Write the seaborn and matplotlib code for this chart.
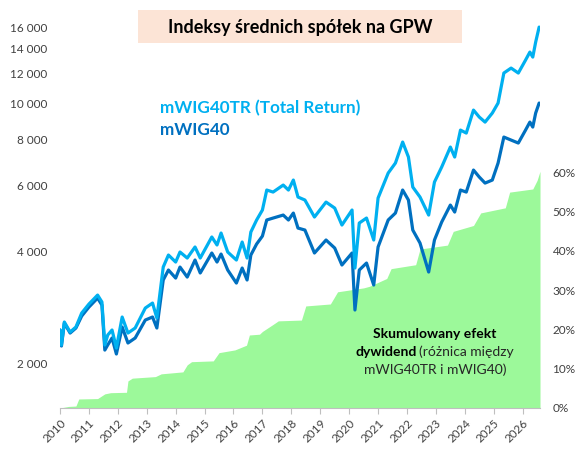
import matplotlib
matplotlib.use('Agg')
import matplotlib.pyplot as plt
from matplotlib.patches import Rectangle
from matplotlib.ticker import FixedLocator, FuncFormatter, NullLocator
import seaborn as sns
import numpy as np

# (lata dziesietnie)
lata = [2010.00, 2010.05, 2010.15, 2010.35, 2010.55, 2010.75, 2011.00, 2011.30, 2011.45, 2011.55,
        2011.65, 2011.80, 2011.95, 2012.15, 2012.35, 2012.60, 2012.95, 2013.20, 2013.35, 2013.57,
        2013.75, 2014.00, 2014.15, 2014.40, 2014.67, 2014.85, 2015.25, 2015.43, 2015.57, 2015.80,
        2016.10, 2016.30, 2016.47, 2016.60, 2016.80, 2017.00, 2017.15, 2017.37, 2017.72, 2017.90,
        2018.07, 2018.23, 2018.47, 2018.80, 2019.20, 2019.50, 2019.75, 2020.10, 2020.20, 2020.35,
        2020.60, 2020.85, 2021.00, 2021.35, 2021.60, 2021.85, 2022.05, 2022.20, 2022.45, 2022.75,
        2022.95, 2023.20, 2023.50, 2023.65, 2023.85, 2024.05, 2024.30, 2024.50, 2024.70, 2024.95,
        2025.15, 2025.35, 2025.60, 2025.85, 2026.10, 2026.25, 2026.35, 2026.45, 2026.57]
mwig40tr = [2454, 2236, 2578, 2423, 2499, 2725, 2881, 3046, 2918, 2236,
            2378, 2454, 2194, 2659, 2408, 2484, 2811, 2899, 2643, 3623,
            3903, 3737, 3976, 3831, 4102, 3831, 4364, 4153, 4472, 3976,
            3784, 4230, 3831, 4500, 4848, 5157, 5836, 5764, 6019, 5836,
            6208, 5589, 5486, 4938, 5417, 5220, 4699, 5157, 3601, 4758,
            4907, 4283, 5554, 6484, 6897, 7855, 7159, 5945, 5589, 4999,
            6132, 6729, 7615, 7159, 8459, 8304, 9574, 9169, 8888, 9398,
            9999, 12042, 12417, 12042, 13046, 13710, 13293, 14585, 16004]
mwig40 = [2454, 2222, 2562, 2408, 2484, 2675, 2828, 2990, 2863, 2167,
          2236, 2335, 2115, 2499, 2264, 2335, 2610, 2659, 2484, 3344,
          3557, 3384, 3623, 3405, 3784, 3492, 3952, 3737, 3927, 3557,
          3281, 3601, 3344, 3903, 4178, 4389, 4848, 4907, 4999, 4848,
          5061, 4612, 4556, 3952, 4283, 4076, 3669, 3952, 2777, 3557,
          3714, 3241, 4102, 4848, 5061, 5836, 5486, 4556, 4204, 3513,
          4283, 4787, 5318, 5093, 5836, 5764, 6605, 6325, 6093, 6208,
          6897, 8101, 7952, 7807, 8459, 8888, 8619, 9398, 10000]

efekt_lata = [2010.0, 2010.3, 2010.55, 2010.65, 2011.3, 2011.55, 2011.75, 2012.3, 2012.35, 2012.5,
              2013.3, 2013.5, 2014.25, 2014.4, 2014.55, 2015.3, 2015.5, 2016.05, 2016.45, 2016.55,
              2016.9, 2017.0, 2017.35, 2017.55, 2018.35, 2018.5, 2019.35, 2019.6, 2020.5, 2020.7,
              2021.3, 2021.45, 2022.3, 2022.45, 2023.4, 2023.6, 2024.3, 2024.55, 2025.4, 2025.55,
              2026.35, 2026.5, 2026.6]
efekt_proc = [0.0, 0.4, 0.5, 2.3, 2.4, 3.6, 3.9, 4.0, 6.9, 7.6,
              8.0, 8.7, 9.2, 11.0, 11.8, 12.0, 14.1, 14.8, 16.0, 18.6,
              18.8, 19.5, 21.2, 22.2, 22.4, 26.0, 26.5, 29.6, 30.6, 31.0,
              33.0, 35.5, 36.5, 40.5, 41.5, 45.0, 46.5, 49.7, 51.0, 55.0,
              55.8, 58.0, 60.3]

lata_ticks = list(range(2010, 2027))
lewe_ticks = [2000, 4000, 6000, 8000, 10000, 12000, 14000, 16000]
prawe_ticks = [0, 10, 20, 30, 40, 50, 60]

sns.set_style('white')
plt.rcParams['font.family'] = ['Lato', 'DejaVu Sans']

W, H = 586, 453
fig = plt.figure(figsize=(W / 100, H / 100), dpi=100)
ax1 = fig.add_axes([60 / W, 1 - 408 / H, 480 / W, 398 / H])
ax2 = ax1.twinx()
ax1.set_zorder(ax2.get_zorder() + 1)
ax1.patch.set_visible(False)

# zielone pole - skumulowany efekt dywidend (prawa os)
ax2.fill_between(efekt_lata, np.array(efekt_proc) / 100, color='#9CF99A', lw=0)
ax2.set_ylim(0, 1.014)
ax2.yaxis.set_major_locator(FixedLocator([p / 100 for p in prawe_ticks]))
ax2.yaxis.set_major_formatter(FuncFormatter(lambda v, p: f'{v * 100:.0f}%'))
ax2.tick_params(axis='y', right=True, length=0, pad=9, labelsize=8.5, labelcolor='#404040')

# linie indeksow (lewa os, log)
sns.lineplot(x=lata, y=mwig40, ax=ax1, color='#0070C0', lw=2.3)
sns.lineplot(x=lata, y=mwig40tr, ax=ax1, color='#00B0F0', lw=2.3)
ax1.set_yscale('log')
ax1.set_ylim(1514, 17790)
ax1.yaxis.set_major_locator(FixedLocator(lewe_ticks))
ax1.yaxis.set_minor_locator(NullLocator())
ax1.yaxis.set_major_formatter(FuncFormatter(lambda v, p: f'{int(round(v)):,}'.replace(',', ' ')))
ax1.tick_params(axis='y', left=False, length=0, pad=9, labelsize=8.5, labelcolor='#404040')

ax1.set_xlim(2010, 2026.6)
ax1.set_xticks(lata_ticks)
ax1.set_xticklabels([str(r) for r in lata_ticks], rotation=45, ha='right', rotation_mode='anchor')
ax1.tick_params(axis='x', bottom=True, length=4, width=0.8, color='#BFBFBF', pad=3,
                labelsize=8.5, labelcolor='#404040')

for a in (ax1, ax2):
    for s in a.spines.values():
        s.set_visible(False)
ax1.spines['bottom'].set_visible(True)
ax1.spines['bottom'].set_color('#BFBFBF')
ax1.spines['bottom'].set_linewidth(0.8)

# tytul w ramce
fig.add_artist(Rectangle((138 / W, 1 - 43 / H), 324 / W, 33 / H, transform=fig.transFigure,
                         facecolor='#FCE4D6', edgecolor='none', zorder=5))
fig.text(300 / W, 1 - 27 / H, 'Indeksy średnich spółek na GPW', ha='center', va='center',
         fontsize=13, fontweight='bold', color='black', zorder=6)

# opisy serii
fig.text(160 / W, 1 - 108 / H, 'mWIG40TR (Total Return)', ha='left', va='center',
         fontsize=12.3, fontweight='bold', color='#00B0F0')
fig.text(160 / W, 1 - 130 / H, 'mWIG40', ha='left', va='center',
         fontsize=12.3, fontweight='bold', color='#0070C0')

# opis zielonego pola
fig.text(435 / W, 1 - 334 / H, 'Skumulowany efekt', ha='center', va='center',
         fontsize=10, fontweight='bold', color='black', zorder=6)
fig.text(417 / W, 1 - 352 / H, 'dywidend', ha='right', va='center',
         fontsize=10, fontweight='bold', color='black', zorder=6)
fig.text(419 / W, 1 - 352 / H, '(różnica między', ha='left', va='center',
         fontsize=10, color='#262626', zorder=6)
fig.text(435 / W, 1 - 370 / H, 'mWIG40TR i mWIG40)', ha='center', va='center',
         fontsize=10, color='#262626', zorder=6)

fig.savefig('out.png', dpi=100)
